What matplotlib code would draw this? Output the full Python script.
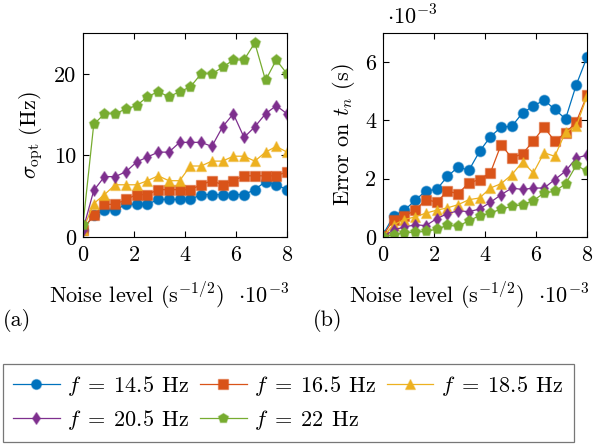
import matplotlib
matplotlib.use("Agg")
import matplotlib.pyplot as plt
import matplotlib.colors as mcolors
import numpy as np

plt.rcParams["font.family"] = "serif"
plt.rcParams["font.serif"] = ["cmr10", "DejaVu Serif"]
plt.rcParams["mathtext.fontset"] = "cm"
plt.rcParams["axes.unicode_minus"] = False

# noise level, in units of 1e-3 s^-1/2
noise = np.linspace(0, 8, 20)

labels = ["$f\\;=\\;14.5\\;\\,\\mathrm{Hz}$", "$f\\;=\\;16.5\\;\\,\\mathrm{Hz}$",
          "$f\\;=\\;18.5\\;\\,\\mathrm{Hz}$", "$f\\;=\\;20.5\\;\\,\\mathrm{Hz}$",
          "$f\\;=\\;22\\;\\,\\mathrm{Hz}$"]
colors = ["#0072BD", "#D95319", "#EDB120", "#7E2F8E", "#77AC30"]
markers = ["o", "s", "^", "d", "p"]

# (a) optimal sigma (Hz)
sigma_145 = [0.9, 2.7, 3.3, 3.3, 4.0, 4.0, 4.0, 4.6, 4.6, 4.6, 4.6, 5.2, 5.2, 5.2, 5.2, 5.2, 5.8, 6.8, 6.4, 5.8]
sigma_165 = [0.9, 2.7, 4.0, 4.0, 4.6, 5.2, 5.2, 5.8, 5.8, 5.8, 5.8, 6.4, 6.9, 6.4, 6.9, 7.5, 7.5, 7.5, 7.5, 8.0]
sigma_185 = [0.9, 4.1, 5.2, 6.4, 6.4, 6.4, 6.9, 7.5, 6.9, 6.9, 8.7, 8.7, 9.3, 9.3, 9.9, 9.9, 9.3, 10.4, 11.1, 10.4]
sigma_205 = [0.9, 5.7, 7.4, 7.4, 8.0, 9.2, 9.8, 10.4, 10.4, 11.6, 11.6, 11.6, 11.1, 13.5, 15.1, 12.2, 13.5, 15.1, 16.1, 15.1]
sigma_22 = [1.5, 13.8, 15.1, 15.1, 15.7, 16.1, 17.2, 17.8, 17.2, 17.8, 18.4, 20.0, 20.0, 20.8, 21.7, 21.7, 23.8, 19.2, 21.7, 20.0]

# (b) error on t_n, in units of 1e-3 s
err_145 = [0.08, 0.73, 0.92, 1.26, 1.59, 1.63, 2.08, 2.40, 2.29, 2.94, 3.44, 3.77, 3.80, 4.26, 4.49, 4.70, 4.38, 4.05, 5.22, 6.17]
err_165 = [0.05, 0.60, 0.71, 0.92, 1.28, 1.20, 1.57, 1.49, 1.86, 1.97, 2.20, 3.17, 2.71, 2.86, 3.29, 3.77, 3.29, 3.57, 3.95, 4.86]
err_185 = [0.02, 0.42, 0.60, 0.69, 0.82, 0.92, 1.00, 1.11, 1.28, 1.34, 1.68, 1.83, 2.14, 2.58, 2.20, 2.89, 2.77, 3.60, 3.80, 4.83]
err_205 = [0.00, 0.25, 0.34, 0.42, 0.39, 0.63, 0.80, 0.90, 0.87, 0.96, 1.19, 1.45, 1.68, 1.63, 1.68, 1.68, 1.97, 2.26, 2.71, 2.81]
err_22 = [0.00, 0.08, 0.14, 0.17, 0.19, 0.27, 0.40, 0.37, 0.56, 0.73, 0.82, 0.96, 1.05, 1.11, 1.25, 1.51, 1.57, 1.82, 2.46, 2.26]

sigma_all = [sigma_145, sigma_165, sigma_185, sigma_205, sigma_22]
err_all = [err_145, err_165, err_185, err_205, err_22]
msizes = [7.5, 7.5, 7.5, 6.5, 8]

fig = plt.figure(figsize=(5.97, 4.45), dpi=100)
ax1 = fig.add_axes([83 / 597, 1 - 237 / 445, 204 / 597, 204 / 445])
ax2 = fig.add_axes([383 / 597, 1 - 237 / 445, 204 / 597, 204 / 445])

fs = 16
handles = []
for i in range(5):
    # lighter, see-through marker edges like the pgfplots export
    edge = mcolors.to_rgba(colors[i], 0.45)
    h, = ax1.plot(noise, sigma_all[i], color=colors[i], marker=markers[i], ms=msizes[i],
                  lw=0.9, mec=edge, mew=1.0, label=labels[i])
    ax2.plot(noise, err_all[i], color=colors[i], marker=markers[i], ms=msizes[i],
             lw=0.9, mec=edge, mew=1.0)
    handles.append(h)

for ax in (ax1, ax2):
    ax.set_xlim(0, 8)
    ax.set_xticks([0, 2, 4, 6, 8])
    ax.tick_params(direction="in", top=True, right=True, labelsize=fs, length=4, pad=5)
    ax.tick_params(axis="x", pad=6)
    for s in ax.spines.values():
        s.set_linewidth(0.8)
    ax.text(1.01, -0.29, "Noise level (s$^{\\mathrm{-1/2}}$)  $\\cdot 10^{-3}$",
            transform=ax.transAxes, fontsize=fs, ha="right", va="center")

ax1.set_ylim(0, 25)
ax1.set_yticks([0, 10, 20])
ax1.set_ylabel("$\\sigma_{\\mathrm{opt}}$ (Hz)", fontsize=fs, labelpad=6)

ax2.set_ylim(0, 7)
ax2.set_yticks([0, 2, 4, 6])
ax2.set_ylabel("Error on $t_n$ (s)", fontsize=fs, labelpad=6)

# scale factor of the y axis in (b)
ax2.text(0.02, 1.08, "$\\cdot 10^{-3}$", transform=ax2.transAxes, fontsize=fs, ha="left", va="center")

fig.text(3 / 597, 1 - 321 / 445, "(a)", fontsize=fs, va="center")
fig.text(313 / 597, 1 - 321 / 445, "(b)", fontsize=fs, va="center")

# row-wise order for a 3-column legend
order = [0, 3, 1, 4, 2]
leg = fig.legend(handles=[handles[k] for k in order], labels=[labels[k] for k in order],
                 loc="upper left", bbox_to_anchor=(3 / 597, 1 - 364 / 445),
                 ncol=3, fontsize=fs, frameon=True, fancybox=False, edgecolor="#555555",
                 handlelength=2.1, handletextpad=0.35, columnspacing=0.45, labelspacing=0.45,
                 borderpad=0.45, borderaxespad=0.0, markerscale=0.95)
leg.get_frame().set_linewidth(0.9)

fig.savefig("out.png", dpi=100)
